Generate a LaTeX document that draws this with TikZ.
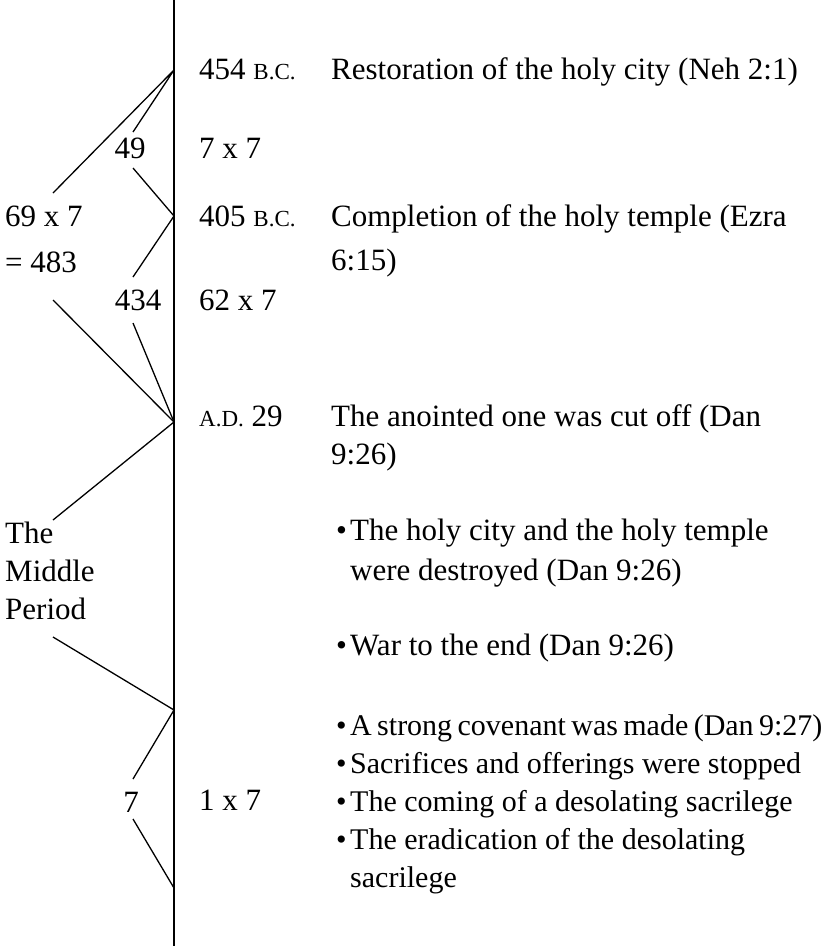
\documentclass[tikz,border=0pt]{standalone}
\usepackage{fontspec}
\setmainfont{Liberation Serif}
\newcommand\mysc[1]{{\fontsize{23}{23}\selectfont #1}}
\newcommand\bitem{\par\hangindent=14pt\hangafter=1\makebox[14pt][l]{•}}
\begin{document}
\begin{tikzpicture}[x=1pt,y=-1pt,
  txt/.style={anchor=base west, inner sep=0pt, font=\fontsize{31}{38}\selectfont},
  listtxt/.style={txt, font=\fontsize{30}{38}\selectfont},
  ctxt/.style={anchor=base, inner sep=0pt, font=\fontsize{31}{38}\selectfont},
  link/.style={line width=1.3pt, black}]
\useasboundingbox (0,0) rectangle (831,946);
% time line
\coordinate (top) at (174,0);
\coordinate (bot) at (174,946);
\coordinate (A) at (174,70);
\coordinate (B) at (174,216);
\coordinate (C) at (174,422);
\coordinate (D) at (174,710);
\coordinate (E) at (174,888);
% free ends of brackets
\coordinate (a1) at (53,193);
\coordinate (a2) at (133,132);
\coordinate (b1) at (133,168);
\coordinate (b2) at (133,277);
\coordinate (c1) at (53,300);
\coordinate (c2) at (133,323);
\coordinate (c3) at (53,520);
\coordinate (d1) at (53,637);
\coordinate (d2) at (133,779);
\coordinate (e1) at (133,819);
\draw[link] (top) -- (bot);
\draw[link] (a1) -- (A) -- (a2);
\draw[link] (b1) -- (B) -- (b2);
\draw[link] (c1) -- (C) -- (c3);
\draw[link] (c2) -- (C);
\draw[link] (d1) -- (D) -- (d2);
\draw[link] (e1) -- (E);
% left labels
\node[ctxt] (n49) at (130,158) {49};
\node[ctxt] (n434) at (138,310) {434};
\node[ctxt] (n7) at (131,812) {7};
\node[txt] (n483) at (5,226) {\parbox[t]{150pt}{69 x 7\\[8pt]= 483}};
\node[txt] (mid) at (5,543) {\parbox[t]{150pt}{The\\Middle\\Period}};
% dates and factors
\node[txt] (d454) at (199,79) {454 \mysc{B.C.}};
\node[txt] (f77) at (199,158) {7 x 7};
\node[txt] (d405) at (199,226) {405 \mysc{B.C.}};
\node[txt] (f627) at (199,310) {62 x 7};
\node[txt] (d29) at (199,426) {\mysc{A.D.} 29};
\node[txt] (f17) at (199,810) {1 x 7};
% events
\node[txt] (ev1) at (331,79) {Restoration of the holy city (Neh 2:1)};
\node[txt] (ev2) at (331,226) {\parbox[t]{600pt}{Completion of the holy temple (Ezra\\[6pt]6:15)}};
\node[txt] (ev3) at (331,426) {\parbox[t]{600pt}{The anointed one was cut off (Dan\\9:26)}};
\node[txt] (ev4) at (336,540) {\parbox[t]{600pt}{\bitem The holy city and the holy temple\\[2pt]were destroyed (Dan 9:26)}};
\node[txt] (ev5) at (336,655) {\parbox[t]{600pt}{\bitem War to the end (Dan 9:26)}};
\node[listtxt] (ev6) at (336,735) {\parbox[t]{600pt}{%
\bitem {\spaceskip=0.18em A strong covenant was made (Dan 9:27)}
\bitem Sacrifices and offerings were stopped
\bitem The coming of a desolating sacrilege
\bitem The eradication of the desolating\\sacrilege}};
\end{tikzpicture}
\end{document}
